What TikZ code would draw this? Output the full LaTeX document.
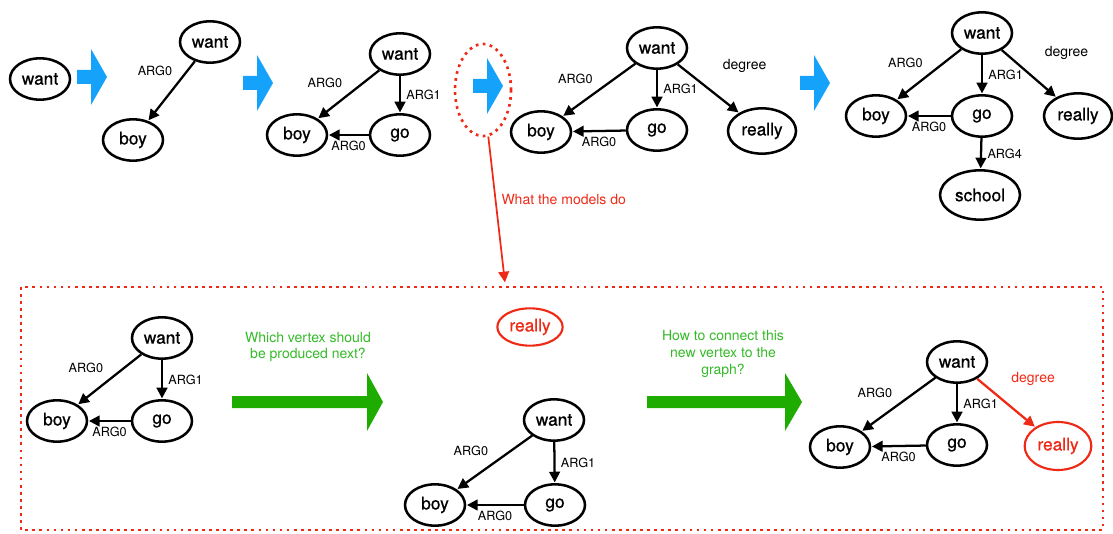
\documentclass[tikz,border=0pt]{standalone}
\usepackage{fontspec}
\setmainfont{TeX Gyre Heros}
\newfontfamily\vtxfont{TeX Gyre Heros}[FakeBold=0.8]
\usetikzlibrary{shapes.geometric,arrows.meta}

\definecolor{flowblue}{RGB}{20,162,250}
\definecolor{stepgreen}{RGB}{30,172,0}
\definecolor{notegreen}{RGB}{52,186,40}
\definecolor{markred}{RGB}{238,42,22}

\tikzset{
    vtx/.style={ellipse, draw=black, line width=1.9pt, inner sep=0pt,
        minimum width=45pt, minimum height=31pt,
        font=\vtxfont\fontsize{13}{13}\selectfont},
    widevtx/.style={vtx, minimum width=51pt, minimum height=34pt},
    newvtx/.style={vtx, draw=markred, text=markred, line width=1.6pt},
    lbl/.style={font=\fontsize{9.5}{9.5}\selectfont, inner sep=4pt},
    deglbl/.style={font=\fontsize{10.5}{10.5}\selectfont, inner sep=3pt},
    redgrid/.style={draw=markred, line width=2pt, dash pattern=on 2pt off 3.3pt},
    note/.style={font=\fontsize{10.5}{12.5}\selectfont, align=center}
}

\begin{document}
\begin{tikzpicture}[x=0.75pt, y=-0.75pt, auto]
        \useasboundingbox (0,0) rectangle (1113,534);

        % growing graphs, top row
        \begin{scope}[every node/.style={vtx}]
            \node (want1) at (40,79) {want};

            \node (want2) at (210,42) {want};
            \node (boy2) at (133,140) {boy};

            \node (want3) at (400,54) {want};
            \node (boy3) at (297,135) {boy};
            \node (go3) at (400,135) {go};

            \node (want4) at (657,48) {want};
            \node (boy4) at (541,132) {boy};
            \node (go4) at (657,130) {go};
            \node[widevtx] (really4) at (762,131) {really};

            \node (want5) at (982,33) {want};
            \node (boy5) at (876,116) {boy};
            \node (go5) at (982,116) {go};
            \node[widevtx] (really5) at (1078,116) {really};
            \node[minimum width=60pt, minimum height=37pt] (school5) at (980,195) {school};
        \end{scope}

        % blue steps between the graphs
        \foreach \x/\y in {77/77, 243/83, 473/86, 800/83}
            \fill[flowblue] (\x,\y-7) -- (\x+14,\y-7) -- (\x+14,\y-28) -- (\x+30,\y)
                -- (\x+14,\y+28) -- (\x+14,\y+7) -- (\x,\y+7) -- cycle;

        \node[ellipse, redgrid, minimum width=42pt, minimum height=69pt] (pick) at (483,90) {};
        \coordinate (drop) at (505,283);

        % what happens inside one step
        \draw[redgrid] (21,287) rectangle (1103,530);

        \begin{scope}[every node/.style={vtx}]
            \node (want6) at (162,338) {want};
            \node (boy6) at (57,421) {boy};
            \node (go6) at (162,421) {go};

            \node[newvtx, minimum width=49pt, minimum height=28pt] (really7) at (530,327) {really};

            \node (want8) at (554,420) {want};
            \node (boy8) at (435,505) {boy};
            \node (go8) at (555,505) {go};

            \node (want9) at (957,362) {want};
            \node (boy9) at (840,447) {boy};
            \node (go9) at (957,445) {go};
            \node[newvtx, minimum width=50pt, minimum height=36pt] (really9) at (1058,446) {really};
        \end{scope}

        \foreach \x/\xa/\xb in {232/367/383, 647/785/802}
            \fill[stepgreen] (\x,396) -- (\xa,396) -- (\xa,373) -- (\xb,402)
                -- (\xa,431) -- (\xa,408) -- (\x,408) -- cycle;

        \node[note, text=notegreen] (ask1) at (308,347) {Which vertex should\\be produced next?};
        \node[note, text=notegreen] (ask2) at (723,354) {How to connect this\\new vertex to the\\graph?};

        \begin{scope}[every edge/.style={draw=black, line width=1.7pt, shorten >=0.5pt,
                -{Triangle[length=8pt,width=8pt]}}, every node/.style={lbl}]
            \draw (want2) edge[swap] node[pos=0.35]{ARG0} (boy2);

            \draw (want3) edge[swap] node{ARG0} (boy3);
            \draw (want3) edge node{ARG1} (go3);
            \draw (go3) edge node{ARG0} (boy3);

            \draw (want4) edge[swap] node{ARG0} (boy4);
            \draw (want4) edge node{ARG1} (go4);
            \draw (go4) edge node{ARG0} (boy4);
            \draw (want4) edge node[deglbl, xshift=7pt, yshift=8pt]{degree} (really4);

            \draw (want5) edge[swap] node{ARG0} (boy5);
            \draw (want5) edge node{ARG1} (go5);
            \draw (go5) edge node{ARG0} (boy5);
            \draw (want5) edge node[deglbl, xshift=8pt, yshift=7pt]{degree} (really5);
            \draw (go5) edge node{ARG4} (school5);

            \draw (want6) edge[swap] node{ARG0} (boy6);
            \draw (want6) edge node{ARG1} (go6);
            \draw (go6) edge node{ARG0} (boy6);

            \draw (want8) edge[swap] node{ARG0} (boy8);
            \draw (want8) edge node{ARG1} (go8);
            \draw (go8) edge node{ARG0} (boy8);

            \draw (want9) edge[swap] node{ARG0} (boy9);
            \draw (want9) edge node{ARG1} (go9);
            \draw (go9) edge node{ARG0} (boy9);
            \draw (want9) edge[draw=markred] node[deglbl, text=markred, yshift=9pt]{degree} (really9);

            \draw (pick) edge[draw=markred, line width=1.3pt] node[note, text=markred, inner sep=3pt]{What the models do} (drop);
        \end{scope}
    \end{tikzpicture}
\end{document}
